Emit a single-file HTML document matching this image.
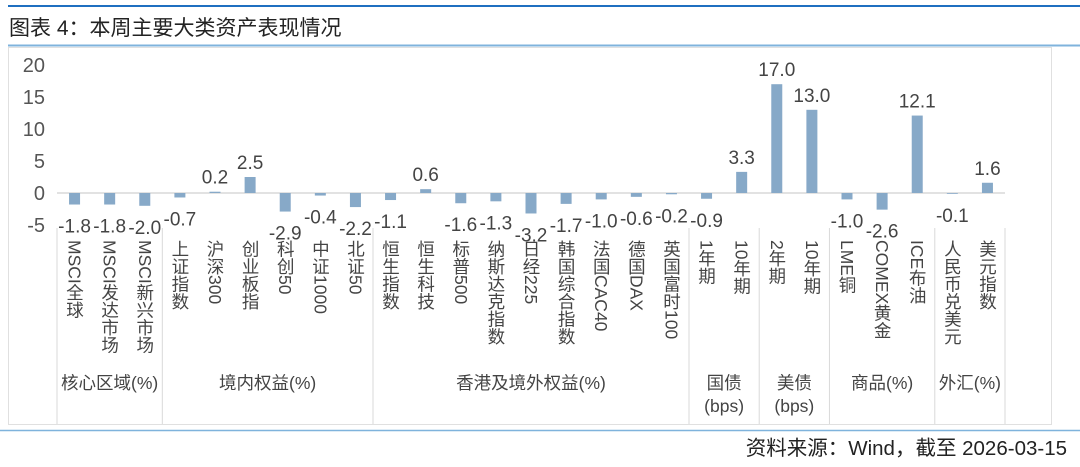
<!DOCTYPE html>
<html><head><meta charset="utf-8"><style>
body{margin:0;background:#fff;width:1080px;height:462px;overflow:hidden;font-family:"Liberation Sans","Noto Sans CJK SC",sans-serif;}
svg text{font-family:"Liberation Sans","Noto Sans CJK SC",sans-serif;}
</style></head><body>
<svg id="chart" width="1080" height="462" xmlns="http://www.w3.org/2000/svg">
<line x1="8" y1="6" x2="1080" y2="6" stroke="#1f6fc0" stroke-width="2"/>
<text x="9" y="35" font-size="21" fill="#222">图表 4：本周主要大类资产表现情况</text>
<line x1="8" y1="45.5" x2="1080" y2="45.5" stroke="#7fb3dc" stroke-width="2"/>
<rect x="8.5" y="47.5" width="1043" height="377" fill="none" stroke="#e0e0e0"/>
<line x1="0" y1="430.5" x2="1080" y2="430.5" stroke="#7fb3dc" stroke-width="1.5"/>
<text x="1067" y="455" font-size="20.5" fill="#222" text-anchor="end">资料来源：Wind，截至 2026-03-15</text>
<g id="plot"></g>
</svg>
<script>
const categories=["MSCI全球","MSCI发达市场","MSCI新兴市场","上证指数","沪深300","创业板指","科创50","中证1000","北证50","恒生指数","恒生科技","标普500","纳斯达克指数","日经225","韩国综合指数","法国CAC40","德国DAX","英国富时100","1年期","10年期","2年期","10年期","LME铜","COMEX黄金","ICE布油","人民币兑美元","美元指数"];
const values=[-1.8,-1.8,-2.0,-0.7,0.2,2.5,-2.9,-0.4,-2.2,-1.1,0.6,-1.6,-1.3,-3.2,-1.7,-1.0,-0.6,-0.2,-0.9,3.3,17.0,13.0,-1.0,-2.6,12.1,-0.1,1.6];
const valueLabels=["-1.8","-1.8","-2.0","-0.7","0.2","2.5","-2.9","-0.4","-2.2","-1.1","0.6","-1.6","-1.3","-3.2","-1.7","-1.0","-0.6","-0.2","-0.9","3.3","17.0","13.0","-1.0","-2.6","12.1","-0.1","1.6"];
const groupNames=[["核心区域(%)"],["境内权益(%)"],["香港及境外权益(%)"],["国债","(bps)"],["美债","(bps)"],["商品(%)"],["外汇(%)"]];
const groupSizes=[3,6,9,2,2,3,2];
const yTicks=[20,15,10,5,0,-5];

const NS="http://www.w3.org/2000/svg";
const g=document.getElementById('plot');
const x0=57,x1=1005,n=categories.length,step=(x1-x0)/n;
const y=v=>193-v*6.4;
const xc=i=>x0+step*(i+0.5);
function mk(tag,attrs,txt){const e=document.createElementNS(NS,tag);for(const k in attrs)e.setAttribute(k,attrs[k]);if(txt!==undefined)e.textContent=txt;g.appendChild(e);return e;}
yTicks.forEach(t=>{
  const e=mk('text',{x:45,y:y(t)+7,'font-size':20,fill:'#555','text-anchor':'end'},String(t));
  
  
});
const zl=mk('line',{x1:x0,y1:y(0),x2:x1,y2:y(0),stroke:'#d9d9d9','stroke-width':1.5});


values.forEach((v,i)=>{
  const cx=xc(i),top=Math.min(y(v),y(0)),h=Math.max(Math.abs(y(v)-y(0)),0.8);
  const b=mk('rect',{x:cx-5.5,y:top,width:11,height:h,fill:'#87a9c8'});
  
  
  const ly=v>=0?y(v)-8:Math.max(y(v)+28,222);
  const t=mk('text',{x:cx,y:ly,'font-size':19,fill:'#444','text-anchor':'middle'},valueLabels[i]);
  
  
  const c=mk('text',{x:cx,y:240,'font-size':17.5,fill:'#444',style:'writing-mode:vertical-rl;'},categories[i]);
  
  
});
let start=0;
const b0=mk('line',{x1:x0,y1:228,x2:x0,y2:424,stroke:'#d9d9d9'});


groupSizes.forEach((s,k)=>{
  const end=start+s,xa=x0+start*step,xb=x0+end*step;
  const d=mk('line',{x1:xb,y1:228,x2:xb,y2:424,stroke:'#d9d9d9'});
  
  
  groupNames[k].forEach((nm,j)=>{
    const t=mk('text',{x:(xa+xb)/2,y:389+j*23,'font-size':17.5,fill:'#444','text-anchor':'middle'},nm);
    
    
  });
  start=end;
});
</script>
</body></html>
